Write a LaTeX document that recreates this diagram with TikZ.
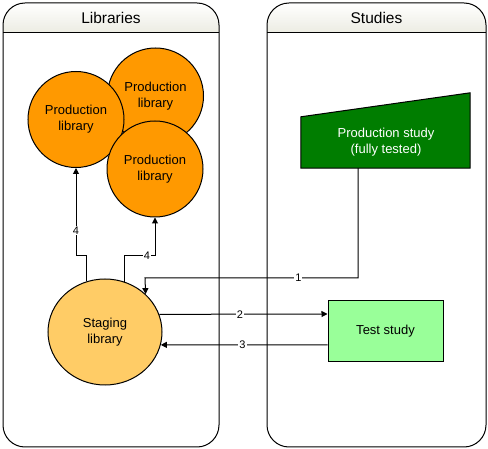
\documentclass[tikz,border=0pt]{standalone}
\usepackage{fontspec}
\setmainfont{Liberation Sans}
\usetikzlibrary{arrows.meta,calc,shapes.geometric}
\definecolor{prodlib}{RGB}{255,153,0}
\definecolor{stagelib}{RGB}{255,204,102}
\definecolor{teststudy}{RGB}{153,255,153}
\definecolor{prodstudy}{RGB}{0,125,0}
\definecolor{headtop}{RGB}{255,255,255}
\definecolor{headbot}{RGB}{236,236,226}
\tikzset{
  lane/.style={draw=black, line width=1pt, rounded corners=22pt},
  lanetitle/.style={font=\fontsize{15.5}{17}\selectfont},
  libcircle/.style={circle, draw=black, line width=1pt, fill=prodlib, minimum size=96pt, inner sep=0pt, align=center, font=\fontsize{13}{16}\selectfont},
  stagebox/.style={ellipse, draw=black, line width=1pt, fill=stagelib, minimum width=114pt, minimum height=106pt, inner sep=0pt, align=center, font=\fontsize{13}{16}\selectfont},
  testbox/.style={rectangle, draw=black, line width=1pt, fill=teststudy, minimum width=115pt, minimum height=61pt, inner sep=0pt, font=\fontsize{13}{16}\selectfont},
  conn/.style={draw=black, line width=1pt, -{Triangle[length=6pt,width=6pt]}},
  lbl/.style={fill=white, inner sep=1pt, font=\fontsize{11}{12}\selectfont},
}
\begin{document}
\begin{tikzpicture}[x=1pt,y=-1pt]
\useasboundingbox (0,0) rectangle (488,449);
% lanes
\foreach \xa/\xb/\ttl/\nm in {3/219/Libraries/laneL, 267/486/Studies/laneS}{
  \begin{scope}
    \clip[rounded corners=22pt] (\xa,3) rectangle (\xb,447);
    \shade[top color=headtop, bottom color=headbot] (\xa,3) rectangle (\xb,33);
  \end{scope}
  \draw[lane] (\xa,3) rectangle (\xb,447);
  \draw[line width=1pt] (\xa,33) -- (\xb,33);
  \node[lanetitle] (\nm) at ({(\xa+\xb)/2},18) {\ttl};
}
% production libraries
\node[libcircle] (pb) at (155.5,96) {Production\\library};
\node[libcircle] (pa) at (76,119.5) {Production\\library};
\node[libcircle] (pc) at (155,169) {Production\\library};
% staging
\node[stagebox] (staging) at (105,332) {Staging\\library};
% production study
\node[minimum width=169pt, minimum height=75pt, inner sep=0pt] (ps) at (385.5,130.5) {};
\fill[prodstudy, draw=black, line width=1pt] (ps.south west) -- (ps.south east) -- (ps.north east) -- ($(ps.north west)+(0,24)$) -- cycle;
\node[text=white, align=center, font=\fontsize{13}{16}\selectfont] (pstext) at (386,142) {Production study\\(fully tested)};
% test study
\node[testbox] (ts) at (385.5,331.5) {Test study};
% connectors
\draw[conn] (staging.110) |- (pa.south |- 0,256) -- node[lbl, pos=0.29] {4} (pa.south);
\draw[conn] (staging.69) |- node[lbl, pos=0.87] {4} (pc.south |- 0,256) -- (pc.south);
\draw[conn] ([xshift=-27.5pt]ps.south) -- (358,278) -- node[lbl, pos=0.28] {1} (145,278) -- (staging.43.4);
\draw[conn] (staging.18.6) -- node[lbl, pos=0.48] {2} ([yshift=17.5pt]ts.west);
\draw[conn] ([yshift=-13.5pt]ts.west) -- node[lbl, pos=0.51] {3} (staging.-13.2);
\end{tikzpicture}
\end{document}
